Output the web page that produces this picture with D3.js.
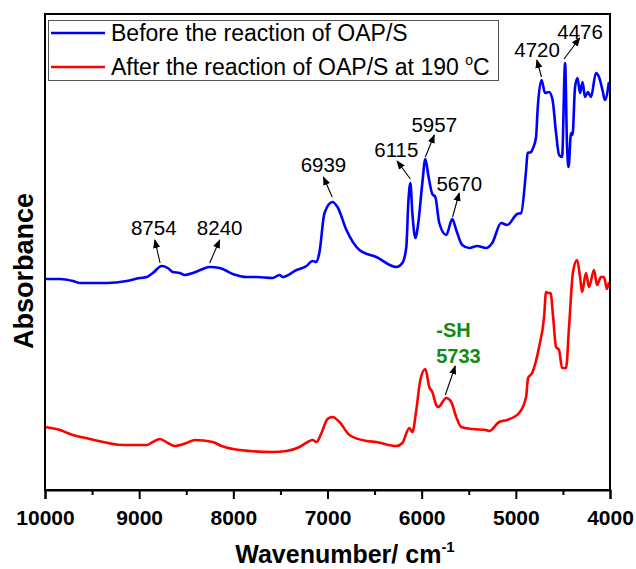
<!DOCTYPE html>
<html>
<head>
<meta charset="utf-8">
<script src="https://cdn.jsdelivr.net/npm/d3@7"></script>
<style>
  html, body { margin: 0; padding: 0; background: #fff; }
  svg { display: block; font-family: Arial, "Liberation Sans", sans-serif; }
</style>
</head>
<body>
<svg id="chart" width="636" height="569"></svg>
<script>
// ---------- data ----------
const seriesNames = ["Before the reaction of OAP/S", "After the reaction of OAP/S at 190 °C"];
const xTicks = [10000, 9000, 8000, 7000, 6000, 5000, 4000];
const xMinorTicks = [9500, 8500, 7500, 6500, 5500, 4500];

const beforeWn = [10000,9841,9703,9629,9343,9131,8993,8919,8855,8760,8696,8643,8569,8516,8431,8325,8251,8145,8007,7859,7753,7583,7509,7477,7329,7223,7159,7117,7085,7032,6947,6894,6799,6661,6481,6269,6205,6163,6142,6120,6099,6067,6036,5993,5961,5930,5887,5855,5813,5739,5675,5633,5569,5495,5410,5315,5251,5156,5092,4986,4944,4891,4875,4838,4817,4785,4769,4727,4690,4647,4610,4573,4541,4509,4477,4456,4440,4414,4398,4371,4345,4318,4292,4265,4234,4202,4149,4117,4080,4053,4011];
const beforeAbs = [2.15,2.15,2.13,2.11,2.11,2.13,2.16,2.17,2.21,2.28,2.26,2.22,2.21,2.19,2.21,2.25,2.27,2.26,2.20,2.17,2.17,2.16,2.19,2.17,2.24,2.28,2.33,2.32,2.42,2.81,2.92,2.87,2.64,2.44,2.37,2.27,2.31,2.47,2.91,3.11,2.81,2.56,2.71,3.11,3.35,3.19,3.00,2.97,2.71,2.59,2.75,2.64,2.49,2.46,2.48,2.46,2.51,2.71,2.69,2.80,2.81,3.24,3.41,3.42,3.46,3.57,3.84,4.14,4.01,4.02,3.94,3.61,3.39,3.37,4.31,3.47,3.27,3.61,3.59,4.07,4.16,4.01,4.12,3.97,4.02,3.97,4.21,4.17,4.04,3.94,4.12];

const afterWn = [10000,9841,9735,9523,9173,8919,8855,8781,8696,8622,8495,8410,8219,8124,7933,7583,7435,7297,7191,7159,7117,7064,7000,6947,6873,6767,6587,6481,6269,6205,6131,6099,6057,6014,5961,5919,5887,5845,5824,5739,5686,5633,5580,5463,5315,5283,5177,5092,4965,4891,4870,4827,4753,4700,4679,4658,4631,4604,4573,4541,4509,4467,4435,4393,4350,4318,4297,4255,4223,4170,4138,4096,4064,4032,4011];
const afterAbs = [0.67,0.64,0.60,0.55,0.49,0.49,0.52,0.55,0.51,0.48,0.51,0.54,0.52,0.48,0.44,0.42,0.43,0.47,0.53,0.54,0.52,0.61,0.75,0.77,0.72,0.59,0.53,0.52,0.48,0.51,0.66,0.62,0.84,1.14,1.25,1.07,1.02,0.89,0.87,0.96,0.92,0.77,0.67,0.65,0.64,0.63,0.72,0.74,0.81,0.97,1.16,1.21,1.47,1.77,2.02,2.01,2.01,1.77,1.47,1.44,1.26,1.26,1.67,2.22,2.34,2.17,2.02,2.21,2.07,2.24,2.09,2.17,2.17,2.05,2.12];

// peak annotations: label, text anchor point, arrow tail, arrow head (wavenumber, absorbance)
const peakLabels = ["8754", "8240", "6939", "6115", "5957", "5670", "4720", "4476"];
const peakTextWn  = [8845, 8145, 7043, 6269, 5866, 5601, 4774, 4318];
const peakTextAbs = [2.59, 2.59, 3.22, 3.37, 3.62, 3.03, 4.37, 4.55];
const peakTailWn  = [8778, 8251, 6950, 6120, 5961, 5672, 4728, 4488];
const peakTailAbs = [2.31, 2.31, 2.97, 3.15, 3.37, 2.77, 4.17, 4.35];
const peakHeadWn  = [8834, 8145, 7043, 6261, 5866, 5601, 4777, 4322];
const peakHeadAbs = [2.54, 2.54, 3.17, 3.33, 3.59, 3.01, 4.34, 4.56];

const shLabels = ["-SH", "5733"];
const shTextWn = 5845;
const shTextAbs = [1.57, 1.31];
const shTail = [5749, 0.99];
const shHead = [5643, 1.28];

// ---------- layout ----------
const svg = d3.select("#chart");
const mLeft = 45, mRight = 610, mTop = 14, mBottom = 490;

const x = d3.scaleLinear().domain([10000, 4000]).range([mLeft, mRight]);
const y = d3.scaleLinear().domain([0.04, 4.80]).range([mBottom, mTop]);

const defs = svg.append("defs");
defs.append("marker")
  .attr("id", "arrow").attr("viewBox", "0 0 10 10")
  .attr("refX", 9).attr("refY", 5)
  .attr("markerWidth", 9).attr("markerHeight", 9)
  .attr("markerUnits", "userSpaceOnUse")
  .attr("orient", "auto")
  .append("path").attr("d", "M0,1 L10,5 L0,9 Z").attr("fill", "#000");

// curves
const line = d3.line()
  .x(d => x(d[0])).y(d => y(d[1]))
  .curve(d3.curveMonotoneX);

const beforeData = beforeWn.map((w, i) => [w, beforeAbs[i]]);
const afterData = afterWn.map((w, i) => [w, afterAbs[i]]);

svg.append("path").datum(beforeData)
  .attr("d", line).attr("fill", "none")
  .attr("stroke", "#0000ff").attr("stroke-width", 2.6).attr("stroke-linejoin", "round");
svg.append("path").datum(afterData)
  .attr("d", line).attr("fill", "none")
  .attr("stroke", "#ff0000").attr("stroke-width", 2.6).attr("stroke-linejoin", "round");

// frame
svg.append("rect")
  .attr("x", mLeft).attr("y", mTop)
  .attr("width", mRight - mLeft).attr("height", mBottom - mTop)
  .attr("fill", "none").attr("stroke", "#000").attr("stroke-width", 2);

// x axis
const xAxis = d3.axisBottom(x).tickValues(xTicks).tickFormat(d3.format("d"))
  .tickSize(9).tickPadding(11);
const gx = svg.append("g").attr("transform", `translate(0,${mBottom})`).call(xAxis);
gx.select(".domain").attr("stroke-width", 2);
gx.selectAll(".tick line").attr("stroke-width", 2);
gx.selectAll("text").attr("font-size", 21).attr("font-weight", "bold").attr("fill", "#000")
  .attr("font-family", "Arial, 'Liberation Sans', sans-serif");
const gxm = svg.append("g").attr("transform", `translate(0,${mBottom})`)
  .call(d3.axisBottom(x).tickValues(xMinorTicks).tickSize(5).tickFormat(""));
gxm.select(".domain").remove();
gxm.selectAll(".tick line").attr("stroke-width", 2);

// axis titles
const xt = svg.append("text")
  .attr("x", 345).attr("y", 563)
  .attr("text-anchor", "middle")
  .attr("font-size", 25).attr("font-weight", "bold");
xt.append("tspan").text("Wavenumber/ cm");
xt.append("tspan").attr("font-size", 15).attr("dy", -11).text("-1");

svg.append("text")
  .attr("transform", "translate(33,271) rotate(-90)")
  .attr("text-anchor", "middle")
  .attr("font-size", 27).attr("font-weight", "bold")
  .text("Absorbance");

// legend
const lg = svg.append("g");
lg.append("rect").attr("x", 48.5).attr("y", 20.5).attr("width", 450).attr("height", 60)
  .attr("fill", "#fff").attr("stroke", "#555").attr("stroke-width", 1);
const legendColors = ["#0000ff", "#ff0000"];
seriesNames.forEach((name, i) => {
  const cy = 33 + i * 34;
  lg.append("line").attr("x1", 51).attr("x2", 105).attr("y1", cy).attr("y2", cy)
    .attr("stroke", legendColors[i]).attr("stroke-width", 2.6);
  const t = lg.append("text").attr("x", 111).attr("y", cy + 8).attr("font-size", 23).attr("fill", "#000");
  if (name.includes("°C")) {
    const base = name.replace(" °C", " ");
    t.append("tspan").text(base);
    t.append("tspan").attr("font-size", 14).attr("dy", -10).text("o");
    t.append("tspan").attr("dy", 10).text("C");
  } else {
    t.text(name);
  }
});

// peak annotations
peakLabels.forEach((lab, i) => {
  svg.append("text")
    .attr("x", x(peakTextWn[i])).attr("y", y(peakTextAbs[i]))
    .attr("text-anchor", "middle").attr("font-size", 20.5).attr("fill", "#000")
    .text(lab);
  svg.append("line")
    .attr("x1", x(peakTailWn[i])).attr("y1", y(peakTailAbs[i]))
    .attr("x2", x(peakHeadWn[i])).attr("y2", y(peakHeadAbs[i]))
    .attr("stroke", "#000").attr("stroke-width", 1.1)
    .attr("marker-end", "url(#arrow)");
});

// -SH annotation
shLabels.forEach((lab, i) => {
  svg.append("text")
    .attr("x", x(shTextWn)).attr("y", y(shTextAbs[i]))
    .attr("text-anchor", "start").attr("font-size", 20).attr("font-weight", "bold")
    .attr("fill", "#138a13").text(lab);
});
svg.append("line")
  .attr("x1", x(shTail[0])).attr("y1", y(shTail[1]))
  .attr("x2", x(shHead[0])).attr("y2", y(shHead[1]))
  .attr("stroke", "#000").attr("stroke-width", 1.1)
  .attr("marker-end", "url(#arrow)");
</script>
</body>
</html>
